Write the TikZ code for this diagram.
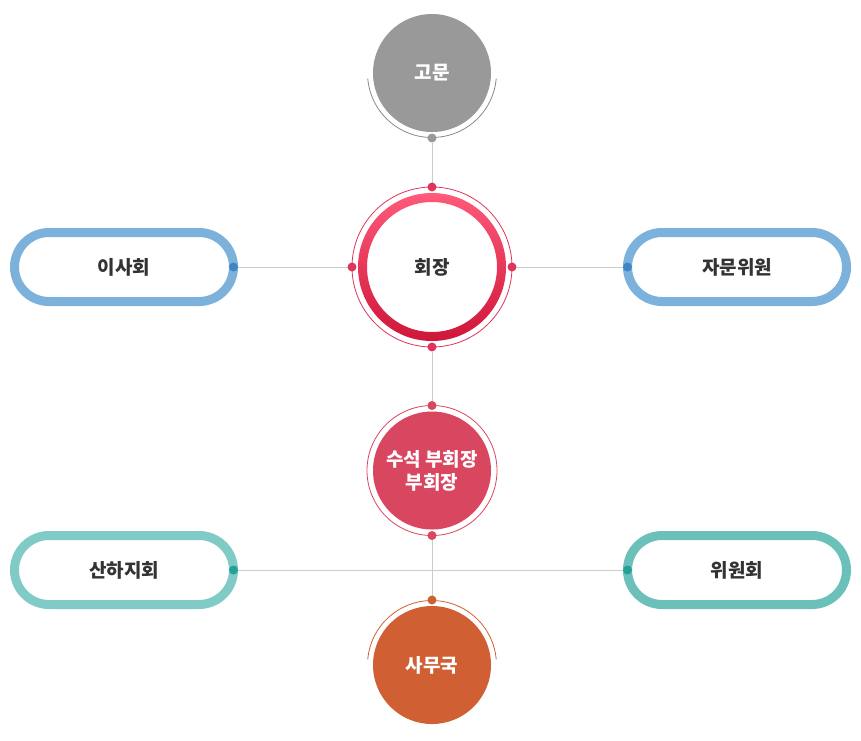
\documentclass[tikz,border=0pt]{standalone}
\usepackage{fontspec}
\newfontfamily\kr{Noto Sans CJK KR}
\usetikzlibrary{shapes.misc,calc,backgrounds}
\definecolor{gray1}{HTML}{999999}
\definecolor{grayArc}{HTML}{8A8A8A}
\definecolor{redA}{HTML}{FF5A7A}
\definecolor{redB}{HTML}{CF1639}
\definecolor{redDot}{HTML}{E0355A}
\definecolor{rose}{HTML}{D9465F}
\definecolor{blueP}{HTML}{7BB1DA}
\definecolor{blueD}{HTML}{3E86C3}
\definecolor{tealL}{HTML}{80CBC6}
\definecolor{tealR}{HTML}{6BC0BA}
\definecolor{tealD}{HTML}{23A198}
\definecolor{orangeC}{HTML}{D06033}
\definecolor{lineG}{HTML}{CCCCCC}
\definecolor{txt}{HTML}{333333}
\begin{document}
\begin{tikzpicture}[x=1pt,y=-1pt,
  lbl/.style={font=\kr\bfseries\fontsize{19}{23}\selectfont, align=center},
  pill/.style={rounded rectangle, minimum width=219pt, minimum height=69pt, line width=9pt, fill=white, inner sep=0pt, outer sep=0pt, lbl, text=txt},
  bigcirc/.style={circle, minimum size=118pt, inner sep=0pt, outer sep=0pt, lbl, text=white},
  dot/.style={circle, inner sep=0pt, outer sep=0pt, minimum size=9pt, fill=#1},
  conn/.style={draw=lineG, line width=0.8pt}]
\useasboundingbox (0,0) rectangle (861,740);

% top circle
\node[bigcirc, fill=gray1] (gomun) at (432,73) {고문};
\draw[grayArc, line width=0.8pt] ($(gomun.center)+(175:64.5)$) arc[start angle=175, end angle=5, radius=64.5];
\node[dot=gray1] (gd) at ($(gomun.center)+(0,65)$) {};

% center circle
\coordinate (hc) at (432,267);
\draw[redDot, line width=0.8pt] (hc) circle[radius=80];
\shade[top color=redA, bottom color=redB, even odd rule] (hc) circle[radius=74] (hc) circle[radius=65];
\node[circle, minimum size=130pt, inner sep=0pt, lbl, text=txt] (hoejang) at (hc) {회장};
\node[dot=redDot] (ht) at ($(hc)+(0,-80)$) {};
\node[dot=redDot] (hb) at ($(hc)+(0,80)$) {};
\node[dot=redDot] (hl) at ($(hc)+(-80,0)$) {};
\node[dot=redDot] (hr) at ($(hc)+(80,0)$) {};

% vice circle
\coordinate (mc) at (432,470.5);
\draw[rose, line width=0.8pt] (mc) circle[radius=65];
\node[bigcirc, fill=rose] (vice) at (mc) {수석 부회장\\부회장};
\node[dot=rose] (vt) at ($(mc)+(0,-65)$) {};
\node[dot=rose] (vb) at ($(mc)+(0,65)$) {};

% bottom circle
\node[bigcirc, fill=orangeC] (samu) at (432,665) {사무국};
\draw[orangeC, line width=0.8pt] ($(samu.center)+(185:64.5)$) arc[start angle=185, end angle=355, radius=64.5];
\node[dot=orangeC] (sd) at ($(samu.center)+(0,-65)$) {};

% pills
\node[pill, draw=blueP] (isa) at (124,267) {이사회};
\node[pill, draw=blueP] (jamun) at (737,267) {자문위원};
\node[pill, draw=tealL] (sanha) at (124,570) {산하지회};
\node[pill, draw=tealR] (wiwon) at (737,570) {위원회};
\node[dot=blueD] (isad) at (isa.east) {};
\node[dot=blueD] (jamund) at (jamun.west) {};
\node[dot=tealD] (sanhad) at (sanha.east) {};
\node[dot=tealD] (wiwond) at (wiwon.west) {};

\begin{scope}[on background layer]
  \fill[white] (0,0) rectangle (861,740);
  \draw[conn] (gd) -- (ht);
  \draw[conn] (isad) -- (hl);
  \draw[conn] (hr) -- (jamund);
  \draw[conn] (hb) -- (vt);
  \draw[conn] (vb) -- (sd);
  \draw[conn] (sanhad) -- (wiwond);
\end{scope}
\end{tikzpicture}
\end{document}
